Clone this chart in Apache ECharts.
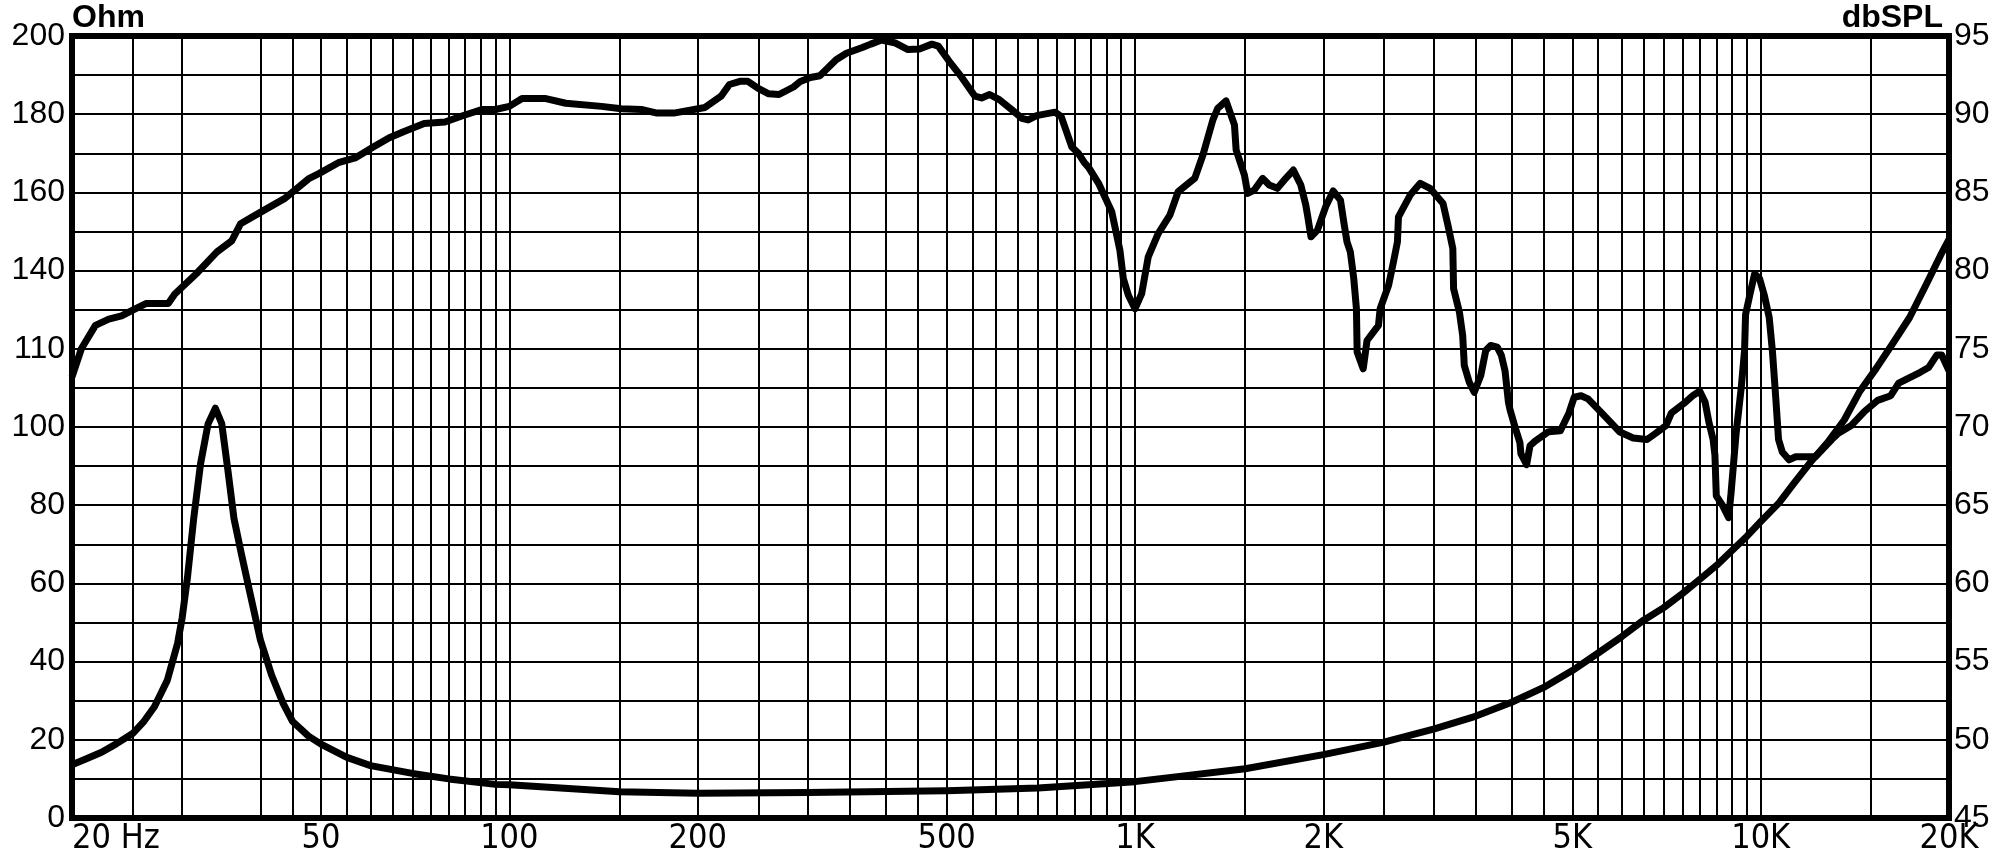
<!DOCTYPE html>
<html>
<head>
<meta charset="utf-8">
<script src="https://cdn.jsdelivr.net/npm/echarts@6/dist/echarts.min.js"></script>
<style>html,body{margin:0;padding:0;background:#fff}#main{width:2009px;height:859px}</style>
</head>
<body>
<div id="main"></div>
<script>
// vertical grid lines (Hz) and labelled ticks
var gridFreqs = [25,30,40,45,50,55,60,65,70,75,80,85,90,95,100,150,200,250,300,350,400,450,500,550,600,650,700,750,800,850,900,950,1000,1500,2000,2500,3000,3500,4000,4500,5000,5500,6000,6500,7000,7500,8000,8500,9000,9500,10000,15000];
var tickFreqs = [20,50,100,200,500,1000,2000,5000,10000,20000];
var tickLabels = ['20 Hz','50','100','200','500','1K','2K','5K','10K','20K'];
var ohmTicks = [0,20,40,60,80,100,120,140,160,180,200];
var ohmLabels = ['0','20','40','60','80','100','110','140','160','180','200'];

// SPL curve (dbSPL, right axis)
var splFreq = [20,20.7,21.8,22.9,24,25.1,26.3,28.5,29.2,31.6,34.1,36,37.2,39.1,43.7,45.3,47.9,49.6,53.3,56.7,60.6,64.3,67.9,73.1,78.9,84.2,90.4,95,100,104.8,114.4,123.1,140.4,151,162.5,172.3,183.1,205.5,218,224.8,233.6,240.6,249.9,259.8,269.8,284.6,291.2,302.7,313.6,332.9,345.8,366.7,378.1,393.6,412.8,433.6,452.4,473.6,484.9,503.7,528.7,554.8,568.6,585.6,606.9,635.6,659.6,674.8,696,745.2,762.3,792.7,812,830,843,874.5,918,946,958,976,1000,1025,1050,1089,1137,1172,1208,1246,1284,1332,1356,1398,1442,1451,1496,1514,1551,1600,1639,1689,1742,1791,1841,1875,1887,1911,1957,2017,2074,2130,2156,2182,2209,2237,2259,2265,2316,2349,2450,2465,2543,2589,2627,2637,2753,2857,2962,3107,3163,3221,3230,3300,3340,3360,3422,3485,3570,3636,3703,3793,3850,3903,3952,3976,4049,4123,4138,4226,4279,4360,4582,4785,4939,5034,5164,5298,5540,5758,5946,6254,6582,6798,7060,7200,7536,7790,7990,8150,8267,8394,8451,8494,8687,8889,8969,9137,9310,9425,9460,9604,9780,9958,10140,10320,10445,10570,10680,10830,11100,11380,12240,12990,13310,13960,14660,15380,16140,16620,17990,18550,19120,19470,20000];
var splDb = [73.2,75.0,76.5,76.9,77.1,77.5,77.9,77.9,78.5,79.8,81.2,81.9,83.0,83.5,84.6,85.1,85.9,86.2,86.9,87.2,87.9,88.5,88.9,89.4,89.5,89.9,90.3,90.3,90.5,91.0,91.0,90.7,90.5,90.35,90.3,90.07,90.07,90.43,91.15,91.9,92.1,92.1,91.65,91.3,91.26,91.74,92.07,92.35,92.46,93.48,93.9,94.26,94.48,94.74,94.57,94.13,94.17,94.48,94.35,93.43,92.35,91.15,91.04,91.26,90.93,90.28,89.74,89.63,89.91,90.13,89.85,87.9,87.5,86.9,86.6,85.58,83.76,81.3,79.49,78.42,77.56,78.53,80.88,82.37,83.55,85.04,85.47,85.9,87.39,89.64,90.38,90.85,89.32,87.71,86.11,84.94,85.15,85.9,85.47,85.26,85.9,86.43,85.47,84.19,83.55,82.16,82.59,84.08,85.09,84.51,83.12,81.84,81.2,79.49,77.56,74.79,73.72,75.53,76.5,77.56,79.06,80.56,81.84,83.44,84.83,85.58,85.26,84.29,82.91,81.41,78.85,77.35,75.85,73.93,72.86,72.22,73.29,74.89,75.21,75.11,74.6,73.6,71.6,71.1,70.0,69.0,68.3,67.6,68.8,69.1,69.7,69.76,70.9,71.9,72.0,71.8,71.0,70.3,69.7,69.3,69.2,69.6,70.1,70.9,71.5,72.0,72.3,71.6,70.3,69.2,68.2,65.6,65.0,64.2,65.8,69.6,72.5,74.9,77.2,78.4,79.8,79.5,78.4,77.0,74.8,71.9,69.2,68.4,67.9,68.1,68.1,69.2,69.6,70.1,71.0,71.7,72.0,72.8,73.5,73.8,74.6,74.6,73.6];

// impedance curve (Ohm, left axis)
var impFreq = [20,21,22.3,23.5,25,26,27.1,28.4,29.5,30,30.6,31.3,32.1,33,33.9,34.7,35.5,36.3,37.3,38.4,40,41.7,43.5,45,47.7,50,55,60,70,80,95,100,150,200,300,500,700,1000,1500,2000,2500,3000,3500,4000,4500,5000,5500,6000,6500,7000,7500,8000,8500,9000,9500,10000,10700,11300,12000,12800,13600,14400,15300,16300,17300,18400,19400,20000];
var impOhm = [13.6,15,16.8,18.9,21.6,24.5,28.5,35.2,44.7,51.2,61.7,76.6,90.6,100.8,104.8,100.9,88.9,76.6,67.6,58.4,45.6,36.5,29.3,24.75,21.0,18.9,15.5,13.4,11.4,10.0,8.6,8.5,6.7,6.35,6.5,7.0,7.65,9.3,12.6,16.2,19.4,22.75,26,29.6,33.4,37.7,42.2,46.4,50.6,53.8,57.4,61.1,64.6,68.4,72,75.8,80.6,85.6,90.9,96.1,101.8,109.1,115,121.6,128,136.5,144,148];

function zip(a, b) { return a.map(function (v, i) { return [v, b[i]]; }); }
function freqLabel(v) {
  for (var i = 0; i < tickFreqs.length; i++) {
    if (Math.abs(Math.log(v) - Math.log(tickFreqs[i])) < 1e-4) return tickLabels[i];
  }
  return '';
}
function ohmLabel(v) {
  var i = ohmTicks.indexOf(Math.round(v));
  return i >= 0 ? ohmLabels[i] : '';
}

var myChart = echarts.init(document.getElementById('main'));
var lineBlack = { color: '#000', width: 2 };
var nameFont = { color: '#000', fontWeight: 'bold', fontSize: 32, verticalAlign: 'bottom', fontFamily: 'Liberation Sans, Arial, sans-serif' };
var option = {
  animation: false,
  backgroundColor: '#fff',
  grid: { left: 72, right: 60, top: 36, bottom: 41, show: true, borderColor: '#000', borderWidth: 6, outerBoundsMode: 'none', containLabel: false },
  xAxis: {
    type: 'log', logBase: 10, min: 20, max: 20000,
    axisLine: { show: false },
    axisTick: { show: false, customValues: gridFreqs },
    splitLine: { show: true, lineStyle: lineBlack },
    axisLabel: {
      customValues: tickFreqs, formatter: freqLabel, alignMinLabel: 'left',
      color: '#000', fontSize: 34, margin: 4,
      fontFamily: 'Liberation Sans Narrow, DejaVu Sans Condensed, Liberation Sans, sans-serif'
    }
  },
  yAxis: [{
    type: 'value', min: 0, max: 200, interval: 10, position: 'left',
    name: 'Ohm', nameLocation: 'end', nameGap: 2,
    nameTextStyle: Object.assign({ align: 'left' }, nameFont),
    axisLine: { show: false }, axisTick: { show: false },
    splitLine: { show: true, lineStyle: lineBlack },
    axisLabel: { formatter: ohmLabel, color: '#000', fontSize: 32, margin: 7, fontFamily: 'Liberation Sans, Arial, sans-serif' }
  }, {
    type: 'value', min: 45, max: 95, interval: 5, position: 'right',
    name: 'dbSPL', nameLocation: 'end', nameGap: 2,
    nameTextStyle: Object.assign({ align: 'right', padding: [0, 6, 0, 0] }, nameFont),
    axisLine: { show: false }, axisTick: { show: false },
    splitLine: { show: false },
    axisLabel: { color: '#000', fontSize: 32, margin: 5, fontFamily: 'Liberation Sans, Arial, sans-serif' }
  }],
  series: [{
    name: 'Impedance', type: 'line', yAxisIndex: 0,
    data: zip(impFreq, impOhm), symbol: 'none',
    lineStyle: { color: '#000', width: 7, join: 'round' }
  }, {
    name: 'SPL', type: 'line', yAxisIndex: 1,
    data: zip(splFreq, splDb), symbol: 'none',
    lineStyle: { color: '#000', width: 7, join: 'round' }
  }]
};
myChart.setOption(option);
</script>
</body>
</html>
